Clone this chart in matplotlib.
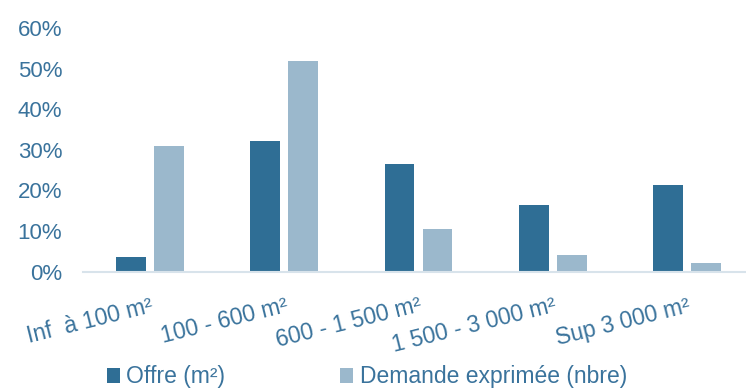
import numpy as np
import matplotlib.pyplot as plt
from matplotlib.ticker import PercentFormatter

categories = ["Inf  à 100 m²", "100 - 600 m²", "600 - 1 500 m²", "1 500 - 3 000 m²", "Sup 3 000 m²"]
offre = [0.035, 0.321, 0.265, 0.164, 0.214]
demande = [0.310, 0.518, 0.104, 0.041, 0.022]

dark = '#2F6E95'
light = '#9BB8CC'
txt = '#3A739C'

plt.rcParams['font.family'] = ['Liberation Sans', 'DejaVu Sans']

fig = plt.figure(figsize=(7.46, 3.89), dpi=100)
ax = fig.add_axes([83 / 746, 1 - 271.7 / 389, 671 / 746, 243.6 / 389])

x = np.arange(len(categories))
w = 0.222
ax.bar(x - 0.141, offre, w, color=dark, label='Offre (m²)')
ax.bar(x + 0.141, demande, w, color=light, label='Demande exprimée (nbre)')

ax.set_xlim(-0.5, 4.5)
ax.set_ylim(0, 0.6)
ax.set_yticks(np.arange(0, 0.61, 0.1))
ax.yaxis.set_major_formatter(PercentFormatter(1, decimals=0))
ax.tick_params(axis='y', length=0, pad=15, labelsize=16, labelcolor=txt)

ax.set_xticks(x)
ax.set_xticklabels(categories, rotation=14, ha='right', va='top', rotation_mode='anchor')
ax.tick_params(axis='x', length=0, pad=16, labelsize=16.5, labelcolor=txt)

for s in ['top', 'right', 'left']:
    ax.spines[s].set_visible(False)
ax.spines['bottom'].set_color('#D8E3EB')
ax.spines['bottom'].set_linewidth(1.5)

fig.legend(loc='center left', bbox_to_anchor=(107 / 746, 1 - 377 / 389), ncol=2,
           frameon=False, fontsize=16.5, labelcolor=txt, borderpad=0, borderaxespad=0,
           handlelength=0.55, handleheight=0.6, handletextpad=0.3, columnspacing=5.0)

fig.savefig('out.png', dpi=100)
